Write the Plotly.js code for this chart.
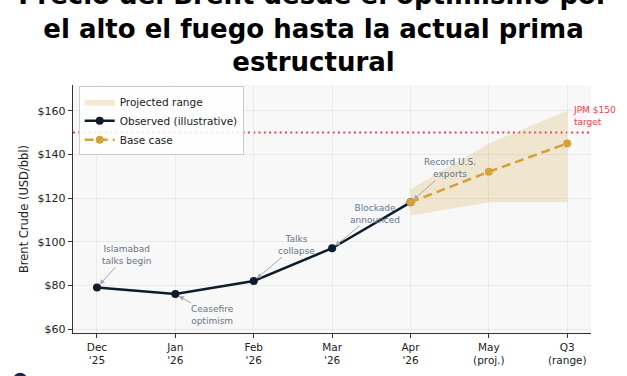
<!DOCTYPE html>
<html>
<head>
<meta charset="utf-8">
<script src="https://cdn.plot.ly/plotly-3.0.1.min.js"></script>
<style>html,body{margin:0;padding:0;background:#fff;}#chart{width:627px;height:376px;}</style>
</head>
<body>
<div id="chart"></div>
<script>
// ---- data ----
const categories = ["Dec<br>'25", "Jan<br>'26", "Feb<br>'26", "Mar<br>'26", "Apr<br>'26", "May<br>(proj.)", "Q3<br>(range)"];
const observedX = categories.slice(0, 5);
const observedValues = [79, 76, 82, 97, 118];
const baseX = categories.slice(4, 7);
const baseValues = [118, 132, 145];
const rangeUpper = [124, 145, 160];
const rangeLower = [112, 118, 118];
const yTickVals = [60, 80, 100, 120, 140, 160];
const yTickText = ["$60", "$80", "$100", "$120", "$140", "$160"];
const targetValue = 150;
const eventLabels = ["Islamabad<br>talks begin", "Ceasefire<br>optimism", "Talks<br>collapse", "Blockade<br>announced", "Record U.S.<br>exports"];
const targetLabel = "JPM $150<br>target";

const NAVY = "#0d1b2a";
const GOLD = "#d4a23a";
const RED = "#e8424f";
const NOTE = "#66758b";
const FONT = "DejaVu Sans, sans-serif";

const traces = [
  {x: baseX, y: rangeLower, type: "scatter", mode: "lines", line: {width: 0, color: "rgba(0,0,0,0)"}, showlegend: false, hoverinfo: "skip"},
  {x: baseX, y: rangeUpper, type: "scatter", mode: "lines", fill: "tonexty", fillcolor: "rgba(212,165,60,0.22)", line: {width: 0, color: "rgba(212,165,60,0.22)"}, name: "Projected range"},
  {x: observedX, y: observedValues, type: "scatter", mode: "lines+markers", name: "Observed (illustrative)", line: {color: NAVY, width: 2.5}, marker: {color: NAVY, size: 8}},
  {x: baseX, y: baseValues, type: "scatter", mode: "lines+markers", name: "Base case", line: {color: GOLD, width: 2.5, dash: "9px,5px"}, marker: {color: GOLD, size: 8}}
];

// annotation placement: [target point index, target value, text x, text y]
const notePos = [
  [0, observedValues[0], 0.38, 94],
  [1, observedValues[1], 1.48, 66.2],
  [2, observedValues[2], 2.55, 98.6],
  [3, observedValues[3], 3.545, 112.9],
  [4, observedValues[4], 4.5, 133.8]
];
const annotations = notePos.map((p, i) => ({
  x: p[0], y: p[1], xref: "x", yref: "y", axref: "x", ayref: "y", ax: p[2], ay: p[3],
  text: eventLabels[i], showarrow: true, arrowhead: 2, arrowsize: 1, arrowwidth: 1, arrowcolor: "#a8a8a8",
  standoff: 4, font: {family: FONT, size: 9, color: NOTE}, align: "center"
}));
annotations.push({
  x: 6.05, y: 157.6, xref: "x", yref: "y", text: targetLabel, showarrow: false, xanchor: "left", yanchor: "middle",
  align: "left", font: {family: FONT, size: 9, color: RED}
});

const layout = {
  width: 627, height: 376,
  margin: {l: 73, r: 36, t: 85, b: 43, pad: 0},
  paper_bgcolor: "#ffffff",
  plot_bgcolor: "#f8f8f8",
  font: {family: FONT, color: "#222"},
  title: {
    text: "Precio del Brent desde el optimismo por<br>el alto el fuego hasta la actual prima<br>estructural",
    font: {family: "DejaVu Sans, sans-serif", size: 26, weight: "bold", color: "#000"},
    x: 0.5, xref: "container", y: 0.99, yref: "container", yanchor: "bottom"
  },
  xaxis: {
    type: "category", categoryorder: "array", categoryarray: categories,
    range: [-0.306, 6.303], showgrid: true, gridcolor: "#e6e6e6", gridwidth: 0.8,
    showline: true, linecolor: "#333", linewidth: 1.2, ticks: "outside", ticklen: 4, tickcolor: "#333",
    tickfont: {family: FONT, size: 10.5, color: "#222"}, zeroline: false, fixedrange: true
  },
  yaxis: {
    range: [58.17, 171.76], tickvals: yTickVals, ticktext: yTickText, showgrid: true, gridcolor: "#e6e6e6", gridwidth: 0.8,
    showline: true, linecolor: "#333", linewidth: 1.2, ticks: "outside", ticklen: 4, tickcolor: "#333",
    tickfont: {family: FONT, size: 11, color: "#222"}, zeroline: false,
    title: {text: "Brent Crude (USD/bbl)", font: {family: FONT, size: 11.5, color: "#222"}, standoff: 6}
  },
  legend: {
    x: 0.011, y: 0.995, xanchor: "left", yanchor: "top", bgcolor: "rgba(255,255,255,0.85)",
    bordercolor: "#cccccc", borderwidth: 1, font: {family: FONT, size: 10.5, color: "#222"}, traceorder: "normal"
  },
  shapes: [
    {type: "line", xref: "paper", x0: 0, x1: 1, yref: "y", y0: targetValue, y1: targetValue, line: {color: RED, width: 2, dash: "2px,3.3px"}, layer: "below"},
    {type: "circle", xref: "paper", yref: "paper", x0: -0.1155, x1: -0.0885, y0: -0.216, y1: -0.16, fillcolor: "#1b2a49", line: {width: 0}}
  ],
  annotations: annotations,
  showlegend: true
};

Plotly.newPlot("chart", traces, layout, {displayModeBar: false, staticPlot: true});
</script>
</body>
</html>
